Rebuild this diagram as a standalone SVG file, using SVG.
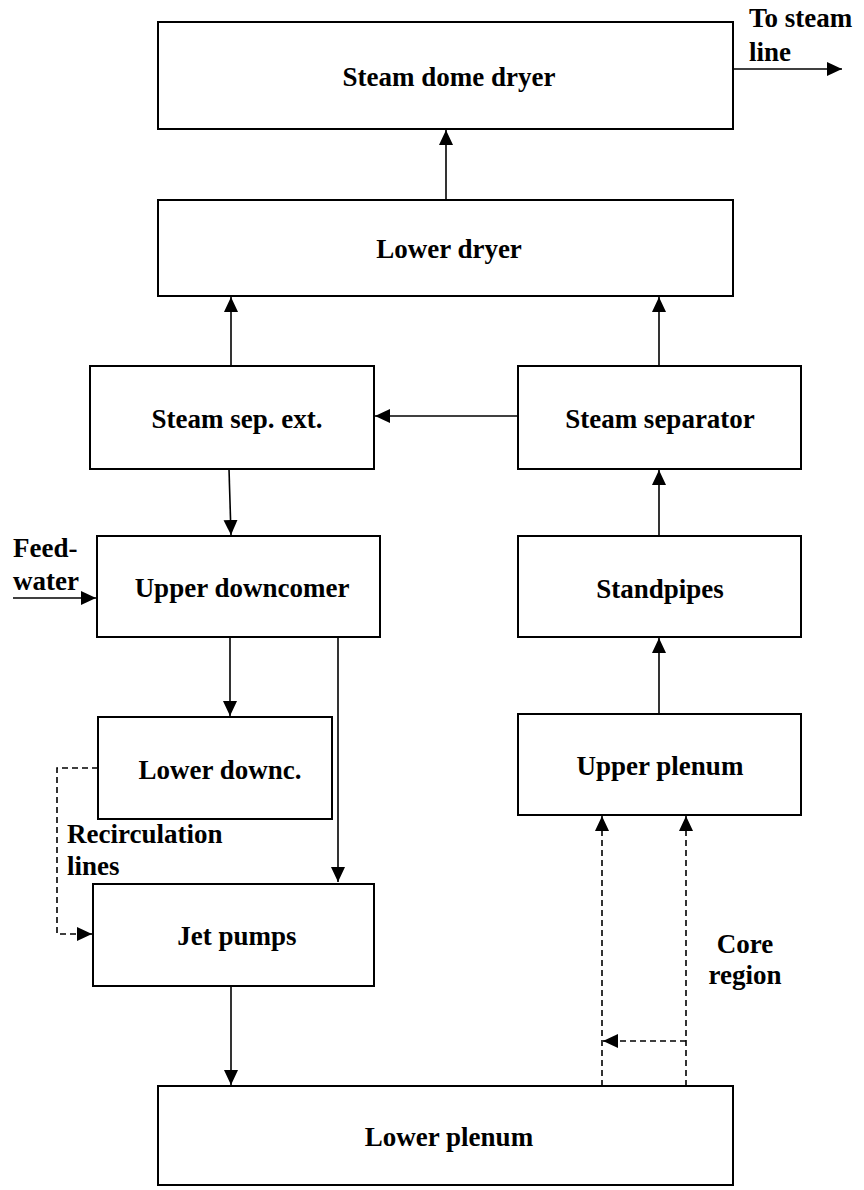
<svg xmlns="http://www.w3.org/2000/svg" width="864" height="1190" viewBox="0 0 864 1190">
<defs>
<marker id="ah" markerUnits="userSpaceOnUse" markerWidth="16" markerHeight="15" refX="15" refY="7" orient="auto">
<path d="M0,0 L15,7 L0,14 z" fill="#000"/>
</marker>
<style>
.box{fill:#fff;stroke:#000;stroke-width:2}
.lbl{font-family:"Liberation Serif","Times New Roman",serif;font-weight:bold;font-size:27px;fill:#000;text-anchor:middle}
.ext{font-family:"Liberation Serif","Times New Roman",serif;font-weight:bold;font-size:27px;fill:#000}
.c{fill:none;stroke:#000;stroke-width:1.6;marker-end:url(#ah)}
.d{fill:none;stroke:#000;stroke-width:1.6;stroke-dasharray:6 4}
</style>
</defs>
<rect width="864" height="1190" fill="#fff"/>
<g id="connectors">
<line class="c" x1="733" y1="69" x2="842" y2="69"/>
<line class="c" x1="446" y1="200" x2="446" y2="130"/>
<line class="c" x1="231" y1="366" x2="231" y2="297"/>
<line class="c" x1="659" y1="366" x2="659" y2="297"/>
<line class="c" x1="518" y1="416" x2="375" y2="416"/>
<line class="c" x1="229" y1="469" x2="231" y2="535"/>
<line class="c" x1="659" y1="536" x2="659" y2="470"/>
<line class="c" x1="659" y1="714" x2="659" y2="638"/>
<line class="c" x1="13" y1="598" x2="96" y2="598"/>
<line class="c" x1="230" y1="637" x2="230" y2="716"/>
<line class="c" x1="338" y1="637" x2="338" y2="882"/>
<path class="d" d="M98,768 H57 V934 H80"/>
<line class="c" x1="78" y1="934" x2="92" y2="934"/>
<line class="c" x1="231" y1="986" x2="231" y2="1085"/>
<line class="d" x1="602" y1="1086" x2="602" y2="828"/>
<line class="c" x1="602" y1="830" x2="602" y2="816"/>
<line class="d" x1="686" y1="1086" x2="686" y2="828"/>
<line class="c" x1="686" y1="830" x2="686" y2="816"/>
<line class="d" x1="686" y1="1041" x2="616" y2="1041"/>
<line class="c" x1="618" y1="1041" x2="603" y2="1041"/>
</g>
<g id="steam-dome-dryer"><rect class="box" x="158" y="22" width="575" height="107"/><text class="lbl" x="449" y="86">Steam dome dryer</text></g>
<g id="lower-dryer"><rect class="box" x="158" y="200" width="575" height="96"/><text class="lbl" x="449" y="258">Lower dryer</text></g>
<g id="steam-sep-ext"><rect class="box" x="90" y="366" width="284" height="103"/><text class="lbl" x="237" y="428">Steam sep. ext.</text></g>
<g id="steam-separator"><rect class="box" x="518" y="366" width="283" height="103"/><text class="lbl" x="660" y="428">Steam separator</text></g>
<g id="upper-downcomer"><rect class="box" x="97" y="536" width="283" height="101"/><text class="lbl" x="242" y="597">Upper downcomer</text></g>
<g id="standpipes"><rect class="box" x="518" y="536" width="283" height="101"/><text class="lbl" x="660" y="598">Standpipes</text></g>
<g id="lower-downc"><rect class="box" x="98" y="717" width="234" height="102"/><text class="lbl" x="220" y="779">Lower downc.</text></g>
<g id="upper-plenum"><rect class="box" x="518" y="714" width="283" height="101"/><text class="lbl" x="660" y="775">Upper plenum</text></g>
<g id="jet-pumps"><rect class="box" x="93" y="884" width="281" height="102"/><text class="lbl" x="237" y="945">Jet pumps</text></g>
<g id="lower-plenum"><rect class="box" x="158" y="1086" width="575" height="99"/><text class="lbl" x="449" y="1146">Lower plenum</text></g>
<g id="labels">
<text class="ext" x="749" y="27">To steam</text>
<text class="ext" x="749" y="61">line</text>
<text class="ext" x="13" y="557">Feed-</text>
<text class="ext" x="13" y="590">water</text>
<text class="ext" x="67" y="843">Recirculation</text>
<text class="ext" x="67" y="875">lines</text>
<text class="lbl" x="745" y="953">Core</text>
<text class="lbl" x="745" y="984">region</text>
</g>
</svg>
